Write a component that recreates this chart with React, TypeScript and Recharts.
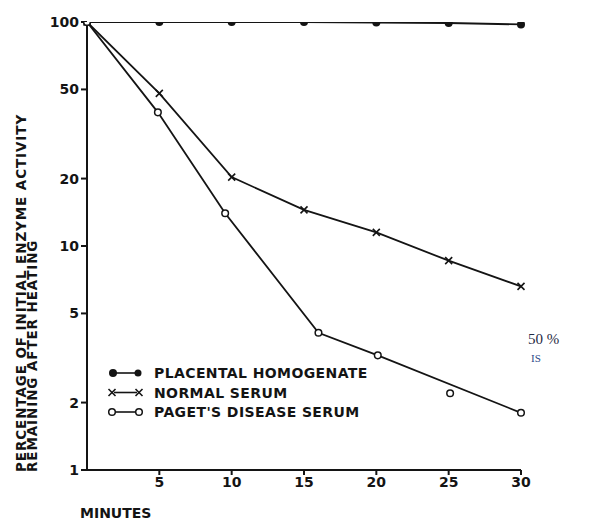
import React from "react";
import { LineChart, Line, XAxis, YAxis } from "recharts";

const placental = [
  { x: 0, y: 100 },
  { x: 5, y: 100 },
  { x: 10, y: 100 },
  { x: 15, y: 100 },
  { x: 20, y: 99.5 },
  { x: 25, y: 99 },
  { x: 30, y: 97.5 },
];
const normalSerum = [
  { x: 0, y: 100 },
  { x: 5, y: 48 },
  { x: 10, y: 20.3 },
  { x: 15, y: 14.5 },
  { x: 20, y: 11.5 },
  { x: 25, y: 8.6 },
  { x: 30, y: 6.6 },
];
// Paget's disease serum: the drawn curve runs from 20 to 30 min directly,
// the 25-min point lies off the curve
const pagetSerum = [
  { x: 0, y: 100 },
  { x: 4.9, y: 39.5 },
  { x: 9.55, y: 14 },
  { x: 16.0, y: 4.1 },
  { x: 20.1, y: 3.25 },
  { x: 30, y: 1.8 },
];
const pagetOffCurve = [{ x: 25.1, y: 2.2 }];
const xTicks = [5, 10, 15, 20, 25, 30];
const yTicks = [1, 2, 5, 10, 20, 50, 100];
const legendItems = ["PLACENTAL HOMOGENATE", "NORMAL SERUM", "PAGET'S DISEASE SERUM"];

const INK = "#141414";
const FONT = "'DejaVu Sans', 'Liberation Sans', sans-serif";

const FilledDot = (p: any) => <circle cx={p.cx} cy={p.cy} r={4} fill={INK} />;
const CrossDot = (p: any) => (
  <g stroke={INK} strokeWidth={1.6}>
    <line x1={p.cx - 3.5} y1={p.cy - 3.5} x2={p.cx + 3.5} y2={p.cy + 3.5} />
    <line x1={p.cx - 3.5} y1={p.cy + 3.5} x2={p.cx + 3.5} y2={p.cy - 3.5} />
  </g>
);
const OpenDot = (p: any) => (
  <circle cx={p.cx} cy={p.cy} r={3.3} fill="#fff" stroke={INK} strokeWidth={1.5} />
);

const LegendBox = () => (
  <svg width={300} height={60} style={{ fontFamily: FONT, display: "block" }}>
    {legendItems.map((t, i) => {
      const y = 10 + i * 19.5;
      return (
        <g key={t}>
          <line x1={8} y1={y} x2={31} y2={y} stroke={INK} strokeWidth={1.6} />
          {i === 0 && (
            <>
              <circle cx={7} cy={y} r={4} fill={INK} />
              <circle cx={32} cy={y} r={3.5} fill={INK} />
            </>
          )}
          {i === 1 && (
            <>
              <CrossDot cx={6} cy={y} />
              <CrossDot cx={33} cy={y} />
            </>
          )}
          {i === 2 && (
            <>
              <OpenDot cx={6} cy={y} />
              <OpenDot cx={33} cy={y} />
            </>
          )}
          <text x={48} y={y + 5} fontSize={14} fill={INK} fontWeight="bold" letterSpacing={0.4}>
            {t}
          </text>
        </g>
      );
    })}
  </svg>
);

const YLabel = () => (
  <g fill={INK} fontFamily={FONT} fontSize={13.5} fontWeight="bold" letterSpacing={0.9}>
    <text transform="translate(26,472) rotate(-90)" textAnchor="start">
      PERCENTAGE OF INITIAL ENZYME ACTIVITY
    </text>
    <text transform="translate(37,472) rotate(-90)" textAnchor="start">
      REMAINING AFTER HEATING
    </text>
  </g>
);

export default function App() {
  return (
    <div style={{ position: "absolute", left: 0, top: 0, width: 612, height: 521, background: "#fff", overflow: "hidden" }}>
      <LineChart
        width={612}
        height={521}
        margin={{ top: 22, right: 91, bottom: 21, left: 0 }}
      >
        <XAxis
          type="number"
          dataKey="x"
          domain={[0, 30]}
          ticks={xTicks}
          allowDuplicatedCategory={false}
          height={30}
          stroke={INK}
          strokeWidth={2}
          tickSize={5}
          tick={{ fill: INK, fontSize: 14, fontFamily: FONT, fontWeight: "bold" }}
        />
        <YAxis
          type="number"
          scale="log"
          domain={[1, 100]}
          ticks={yTicks}
          allowDataOverflow
          width={87}
          stroke={INK}
          strokeWidth={2}
          tickSize={6}
          interval={0}
          tick={{ fill: INK, fontSize: 14, fontFamily: FONT, fontWeight: "bold" }}
          label={{ content: () => <YLabel /> }}
        />
        <Line
          data={placental}
          dataKey="y"
          stroke={INK}
          strokeWidth={1.8}
          dot={<FilledDot />}
          isAnimationActive={false}
        />
        <Line
          data={normalSerum}
          dataKey="y"
          stroke={INK}
          strokeWidth={1.8}
          dot={<CrossDot />}
          isAnimationActive={false}
        />
        <Line
          data={pagetSerum}
          dataKey="y"
          stroke={INK}
          strokeWidth={1.8}
          dot={<OpenDot />}
          isAnimationActive={false}
        />
        <Line
          data={pagetOffCurve}
          dataKey="y"
          stroke="none"
          dot={<OpenDot />}
          isAnimationActive={false}
        />
      </LineChart>
      <div style={{ position: "absolute", left: 106, top: 363 }}>
        <LegendBox />
      </div>
      <div style={{ position: "absolute", left: 80, top: 505, fontFamily: FONT, fontSize: 14, fontWeight: "bold", color: INK }}>
        MINUTES
      </div>
      <div style={{ position: "absolute", left: 528, top: 331, fontFamily: "'Liberation Serif', serif", fontSize: 15, color: "#1f2a44" }}>
        50 %
      </div>
      <div style={{ position: "absolute", left: 531, top: 352, fontFamily: "'Liberation Serif', serif", fontSize: 11, color: "#2c4a8a" }}>
        IS
      </div>
    </div>
  );
}
